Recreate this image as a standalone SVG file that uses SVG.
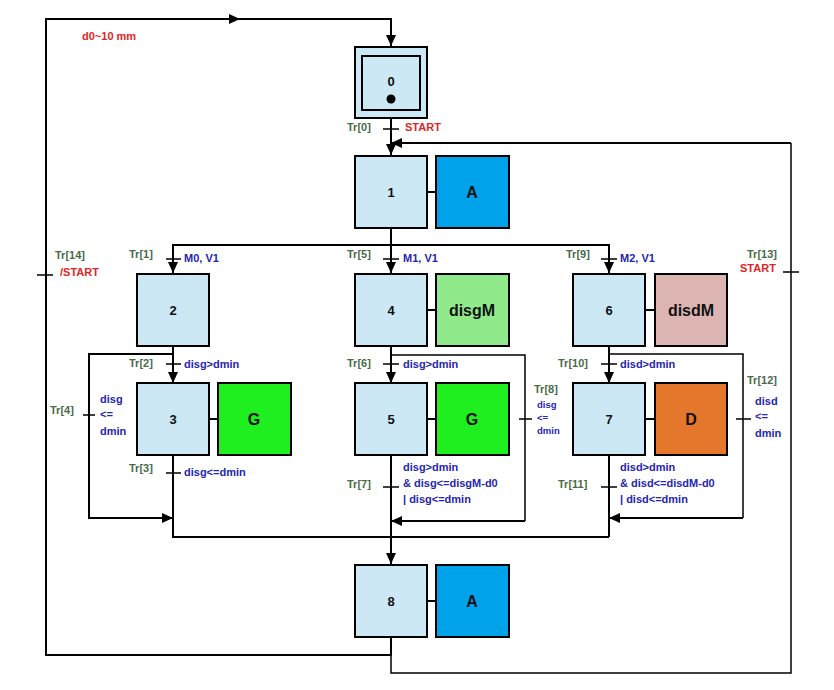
<svg xmlns="http://www.w3.org/2000/svg" width="834" height="690" viewBox="0 0 834 690">
<style>
.step{fill:#cce8f5;stroke:#000;stroke-width:2}
.act{stroke:#000;stroke-width:2}
.num{font-family:"Liberation Sans",Arial,sans-serif;font-weight:bold;font-size:13px;fill:#111;text-anchor:middle}
.big{font-family:"Liberation Sans",Arial,sans-serif;font-weight:bold;font-size:16px;fill:#111;text-anchor:middle}
.tr{font-family:"Liberation Sans",Arial,sans-serif;font-weight:bold;font-size:11px;fill:#4a6b4a}
.cond{font-family:"Liberation Sans",Arial,sans-serif;font-weight:bold;font-size:11px;fill:#2626b0}
.small{font-size:9.5px}
.red{font-family:"Liberation Sans",Arial,sans-serif;font-weight:bold;font-size:11px;fill:#e02525}
.ln{fill:none;stroke:#000;stroke-width:2}
.thin{fill:none;stroke:#000;stroke-width:1.5}
.tick{stroke:#000;stroke-width:1.5}
</style>
<defs>
<marker id="ah" markerUnits="userSpaceOnUse" markerWidth="12" markerHeight="10" refX="11" refY="5" orient="auto">
<path d="M0,0 L11,5 L0,10 Z" fill="#000"/>
</marker>
</defs>
<rect width="834" height="690" fill="#fff"/>

<g id="connectors">
<!-- top loop: step 8 to step 0 -->
<path class="ln" d="M391,637 V655 H46 V19 H240" marker-end="url(#ah)"/>
<path class="ln" d="M240,19 H391 V46" marker-end="url(#ah)"/>
<!-- step 0 to step 1 -->
<path class="ln" d="M391,118 V155" marker-end="url(#ah)"/>
<!-- right loop: step 8 to step 1 -->
<path class="thin" d="M391,637 V673 H791 V143"/>
<path class="ln" d="M791,143 H391" marker-end="url(#ah)"/>
<!-- step 1 to branches -->
<path class="ln" d="M391,228 V245"/>
<path class="ln" d="M173,273 V245 H609 V273"/>
<path class="ln" d="M173,245 V273" marker-end="url(#ah)"/>
<path class="ln" d="M391,245 V273" marker-end="url(#ah)"/>
<path class="ln" d="M609,245 V273" marker-end="url(#ah)"/>
<!-- branch left -->
<path class="ln" d="M173,346 V383" marker-end="url(#ah)"/>
<path class="ln" d="M173,354 H89 V518 H173" marker-end="url(#ah)"/>
<path class="ln" d="M173,455 V537 H609"/>
<!-- branch middle -->
<path class="ln" d="M391,346 V383" marker-end="url(#ah)"/>
<path class="thin" d="M391,355 H525 V521"/>
<path class="ln" d="M525,521 H391" marker-end="url(#ah)"/>
<path class="ln" d="M391,455 V564" marker-end="url(#ah)"/>
<!-- branch right -->
<path class="ln" d="M609,346 V383" marker-end="url(#ah)"/>
<path class="thin" d="M609,354 H743 V518"/>
<path class="ln" d="M743,518 H609" marker-end="url(#ah)"/>
<path class="ln" d="M609,455 V537"/>
<!-- step-action links -->
<path class="ln" d="M427,192 H436 M427,310 H436 M645,310 H655 M209,419 H218 M427,419 H436 M645,419 H655 M427,601 H436"/>
<!-- ticks -->
<path class="tick" d="M383,129 H399 M37,275 H53 M783,272 H799 M166,259 H181 M383,259 H399 M601,259 H617 M166,364 H181 M383,364 H399 M601,364 H617 M83,415 H95 M519,419 H532 M736,419 H751 M166,473 H181 M383,487 H399 M601,487 H617"/>
</g>

<g id="step0">
<rect class="step" x="355" y="47" width="72" height="71"/>
<rect class="step" x="362" y="56" width="58" height="54"/>
<text class="num" x="391" y="86">0</text>
<circle cx="391" cy="99" r="4.5" fill="#000"/>
</g>
<g id="step1"><rect class="step" x="355" y="156" width="72" height="72"/><text class="num" x="391" y="197">1</text></g>
<g id="act1"><rect class="act" x="436" y="156" width="73" height="72" fill="#00a2ea"/><text class="big" x="472" y="198">A</text></g>
<g id="step2"><rect class="step" x="137" y="274" width="72" height="72"/><text class="num" x="173" y="315">2</text></g>
<g id="step4"><rect class="step" x="355" y="274" width="72" height="72"/><text class="num" x="391" y="315">4</text></g>
<g id="act4"><rect class="act" x="436" y="274" width="73" height="72" fill="#90ea8c"/><text class="big" x="472" y="316">disgM</text></g>
<g id="step6"><rect class="step" x="573" y="274" width="72" height="72"/><text class="num" x="609" y="315">6</text></g>
<g id="act6"><rect class="act" x="655" y="274" width="72" height="72" fill="#dcb5b3"/><text class="big" x="691" y="316">disdM</text></g>
<g id="step3"><rect class="step" x="137" y="383" width="72" height="72"/><text class="num" x="173" y="424">3</text></g>
<g id="act3"><rect class="act" x="218" y="383" width="73" height="72" fill="#1fee1f"/><text class="big" x="254" y="425">G</text></g>
<g id="step5"><rect class="step" x="355" y="383" width="72" height="72"/><text class="num" x="391" y="424">5</text></g>
<g id="act5"><rect class="act" x="436" y="383" width="73" height="72" fill="#1fee1f"/><text class="big" x="472" y="425">G</text></g>
<g id="step7"><rect class="step" x="573" y="383" width="72" height="72"/><text class="num" x="609" y="424">7</text></g>
<g id="act7"><rect class="act" x="655" y="383" width="72" height="72" fill="#e4772c"/><text class="big" x="691" y="425">D</text></g>
<g id="step8"><rect class="step" x="355" y="565" width="72" height="72"/><text class="num" x="391" y="606">8</text></g>
<g id="act8"><rect class="act" x="436" y="565" width="73" height="72" fill="#00a2ea"/><text class="big" x="472" y="607">A</text></g>

<g id="labels">
<text class="red" x="82" y="40">d0~10 mm</text>
<text class="tr" x="347" y="131">Tr[0]</text>
<text class="red" x="405" y="131">START</text>
<text class="tr" x="55" y="259">Tr[14]</text>
<text class="red" x="60" y="276">/START</text>
<text class="tr" x="747" y="258">Tr[13]</text>
<text class="red" x="740" y="272">START</text>
<text class="tr" x="129" y="258">Tr[1]</text>
<text class="cond" x="184" y="262">M0, V1</text>
<text class="tr" x="347" y="258">Tr[5]</text>
<text class="cond" x="403" y="262">M1, V1</text>
<text class="tr" x="566" y="258">Tr[9]</text>
<text class="cond" x="620" y="262">M2, V1</text>
<text class="tr" x="129" y="367">Tr[2]</text>
<text class="cond" x="184" y="368">disg&gt;dmin</text>
<text class="tr" x="347" y="367">Tr[6]</text>
<text class="cond" x="403" y="368">disg&gt;dmin</text>
<text class="tr" x="558" y="367">Tr[10]</text>
<text class="cond" x="620" y="368">disd&gt;dmin</text>
<text class="tr" x="50" y="414">Tr[4]</text>
<text class="cond" x="100" y="403">disg</text>
<text class="cond" x="100" y="418">&lt;=</text>
<text class="cond" x="100" y="435">dmin</text>
<text class="tr" x="534" y="393" font-size="10.5">Tr[8]</text>
<text class="cond small" x="537" y="408">disg</text>
<text class="cond small" x="537" y="421">&lt;=</text>
<text class="cond small" x="537" y="434">dmin</text>
<text class="tr" x="747" y="384">Tr[12]</text>
<text class="cond" x="755" y="405">disd</text>
<text class="cond" x="755" y="420">&lt;=</text>
<text class="cond" x="755" y="437">dmin</text>
<text class="tr" x="129" y="472">Tr[3]</text>
<text class="cond" x="184" y="476">disg&lt;=dmin</text>
<text class="tr" x="347" y="488">Tr[7]</text>
<text class="cond" x="403" y="471">disg&gt;dmin</text>
<text class="cond" x="403" y="487">&amp; disg&lt;=disgM-d0</text>
<text class="cond" x="403" y="503">| disg&lt;=dmin</text>
<text class="tr" x="558" y="488">Tr[11]</text>
<text class="cond" x="620" y="471">disd&gt;dmin</text>
<text class="cond" x="620" y="487">&amp; disd&lt;=disdM-d0</text>
<text class="cond" x="620" y="503">| disd&lt;=dmin</text>
</g>
</svg>
